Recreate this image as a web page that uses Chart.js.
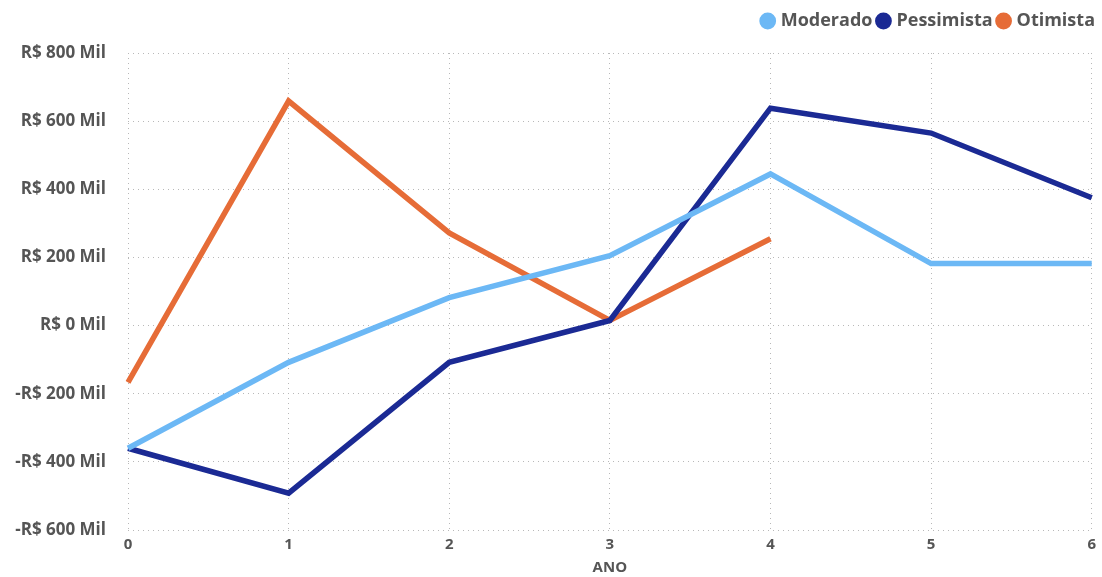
<!DOCTYPE html>
<html>
<head>
<meta charset="utf-8">
<script src="https://cdn.jsdelivr.net/npm/chart.js@4"></script>
<style>
  html, body { margin: 0; padding: 0; background: #fff; }
  #wrap { width: 1102px; height: 577px; position: relative; }
</style>
</head>
<body>
<div id="wrap"><canvas id="c"></canvas></div>
<script>
// Anos do fluxo de caixa projetado
const anos = ['0', '1', '2', '3', '4', '5', '6'];

// Valores por cenário (R$ mil)
const moderado   = [-360, -108, 82, 205, 445, 182, 182];
const pessimista = [-360, -492, -108, 15, 638, 565, 375];
const otimista   = [-167, 659, 272, 15, 255, null, null];

const corModerado   = '#6CB8F5';
const corPessimista = '#1B2A94';
const corOtimista   = '#E66C37';

const textColor = '#555555';
const gridColor = '#B8B8B8';
const fontFamily = '"Open Sans", "Noto Sans", sans-serif';

function serie(label, data, color) {
  return {
    label, data,
    borderColor: color,
    backgroundColor: color,
    borderWidth: 5.5,
    pointRadius: 0,
    pointHoverRadius: 0,
    tension: 0,
    borderJoinStyle: 'miter',
    spanGaps: false
  };
}

// Move a legenda para o canto superior direito, acima da área do gráfico
const legendShift = {
  id: 'legendShift',
  afterLayout(chart) {
    const l = chart.legend;
    if (!l) return;
    l.top -= 13; l.bottom -= 13;
    l.left += 8; l.right += 8;
  }
};

new Chart(document.getElementById('c'), {
  type: 'line',
  data: {
    labels: anos,
    datasets: [
      serie('Moderado', moderado, corModerado),
      serie('Pessimista', pessimista, corPessimista),
      serie('Otimista', otimista, corOtimista)
    ]
  },
  plugins: [legendShift],
  options: {
    responsive: true,
    maintainAspectRatio: false,
    animation: false,
    layout: { padding: { left: 0, right: 8, top: 18, bottom: 0 } },
    plugins: {
      tooltip: { enabled: false },
      legend: {
        position: 'top',
        align: 'end',
        labels: {
          usePointStyle: true,
          pointStyle: 'circle',
          boxWidth: 8,
          boxHeight: 8,
          padding: 7,
          color: textColor,
          font: { family: fontFamily, size: 18, weight: 'bold' }
        }
      }
    },
    scales: {
      x: {
        type: 'category',
        offset: false,
        grid: {
          color: gridColor,
          lineWidth: 1,
          drawTicks: false
        },
        border: { display: false, dash: [1, 4] },
        ticks: {
          color: textColor,
          padding: 6,
          maxRotation: 0,
          font: { family: fontFamily, size: 15, weight: 'bold' }
        },
        title: {
          display: true,
          text: 'ANO',
          color: textColor,
          padding: { top: 0, bottom: 0 },
          font: { family: fontFamily, size: 15, weight: 'bold' }
        },
        afterFit: (s) => { s.height = 47; }
      },
      y: {
        min: -600,
        max: 800,
        grid: {
          color: gridColor,
          lineWidth: 1,
          drawTicks: false
        },
        border: { display: false, dash: [1, 4] },
        ticks: {
          stepSize: 200,
          color: textColor,
          padding: 22,
          font: { family: fontFamily, size: 17, weight: 'bold' },
          callback: (v) => (v < 0 ? '-R$ ' + Math.abs(v) : 'R$ ' + v) + ' Mil'
        },
        afterFit: (s) => { s.width = 128; }
      }
    }
  }
});
</script>
</body>
</html>
